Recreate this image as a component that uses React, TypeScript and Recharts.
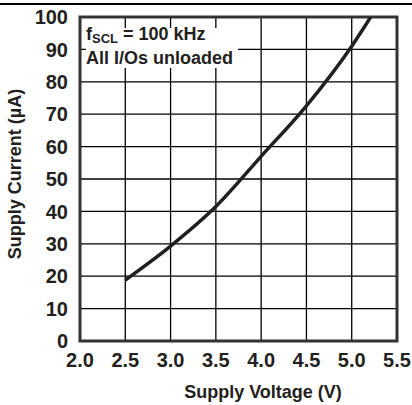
import React from 'react';
import { LineChart, Line, XAxis, YAxis, CartesianGrid, ReferenceArea } from 'recharts';

const voltages = [2.5, 3.0, 3.5, 4.0, 4.5, 5.0, 5.21];
const currents = [18.8, 29.3, 41.5, 57.0, 72.6, 91.0, 100.0];
const xTicks = [2.0, 2.5, 3.0, 3.5, 4.0, 4.5, 5.0, 5.5];
const yTicks = [0, 10, 20, 30, 40, 50, 60, 70, 80, 90, 100];

const data = voltages.map((v, i) => ({ v, i: currents[i] }));

const FONT = '"Liberation Sans", Arial, Helvetica, sans-serif';
const INK = '#231f20';

const renderXLabel = () => (
  <text x={263} y={398} textAnchor="middle" fontFamily={FONT} fontWeight="bold" fontSize={18} fill={INK}>
    Supply Voltage (V)
  </text>
);

const renderYLabel = () => (
  <text
    x={21}
    y={174}
    transform="rotate(-90 21 174)"
    textAnchor="middle"
    fontFamily={FONT}
    fontWeight="bold"
    fontSize={18}
    fill={INK}
  >
    Supply Current (µA)
  </text>
);

export default function App() {
  return (
    <div style={{ position: 'absolute', left: 0, top: 0, width: 412, height: 405, background: '#fff' }}>
      <div style={{ position: 'absolute', left: 0, top: 3, width: 412, height: 1.5, background: '#000' }} />
      <LineChart width={412} height={405} data={data} margin={{ top: 17, right: 15, bottom: 0, left: 0 }}>
        <CartesianGrid stroke="#000" strokeWidth={1.3} />
        <XAxis
          dataKey="v"
          type="number"
          domain={[2, 5.5]}
          ticks={xTicks}
          tickFormatter={(t: number) => t.toFixed(1)}
          height={64}
          tickSize={0}
          tickMargin={12}
          axisLine={false}
          tick={{ fontFamily: FONT, fontWeight: 'bold', fontSize: 20, fill: INK }}
          label={renderXLabel}
          allowDataOverflow
        />
        <YAxis
          type="number"
          domain={[0, 100]}
          ticks={yTicks}
          width={80}
          tickSize={0}
          tickMargin={12}
          axisLine={false}
          tick={{ fontFamily: FONT, fontWeight: 'bold', fontSize: 20, fill: INK }}
          label={renderYLabel}
          allowDataOverflow
        />
        <ReferenceArea x1={2} x2={5.5} y1={0} y2={100} fill="none" stroke="#333" strokeWidth={3} />
        <Line
          dataKey="i"
          type="monotone"
          stroke={INK}
          strokeWidth={3.5}
          dot={false}
          isAnimationActive={false}
        />
      </LineChart>
      <div style={{ position: 'absolute', left: 86, top: 28, width: 152, height: 40, background: '#fff' }} />
      <div
        style={{
          position: 'absolute',
          left: 86,
          top: 23,
          fontFamily: FONT,
          fontWeight: 'bold',
          fontSize: 18,
          lineHeight: '22px',
          color: INK,
          whiteSpace: 'nowrap',
        }}
      >
        <div>
          f<span style={{ fontSize: 13, position: 'relative', top: 3 }}>SCL</span> = 100 kHz
        </div>
        <div>All I/Os unloaded</div>
      </div>
    </div>
  );
}
